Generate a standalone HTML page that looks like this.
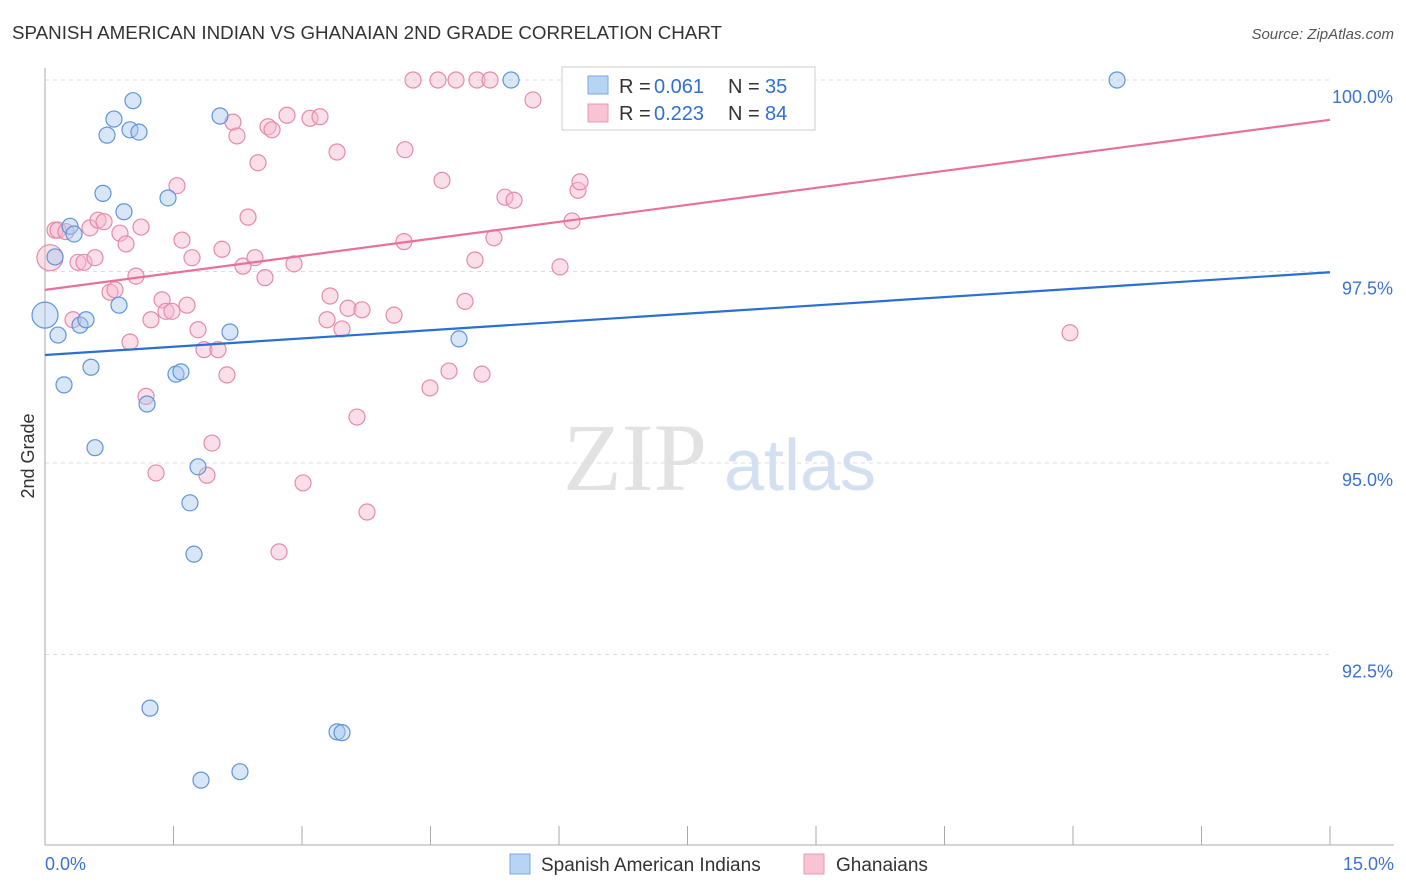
<!DOCTYPE html>
<html><head><meta charset="utf-8"><style>
body{margin:0;background:#fff;font-family:"Liberation Sans",sans-serif;}
svg{display:block}
</style></head><body>
<svg id="chart" width="1406" height="892" xmlns="http://www.w3.org/2000/svg">
<text x="12" y="39" font-size="18" fill="#333" textLength="710" lengthAdjust="spacingAndGlyphs">SPANISH AMERICAN INDIAN VS GHANAIAN 2ND GRADE CORRELATION CHART</text>
<text x="1394" y="39" font-size="15" fill="#555" font-style="italic" text-anchor="end">Source: ZipAtlas.com</text>
<text x="0" y="0" transform="translate(34,456) rotate(-90)" font-size="18" fill="#333" text-anchor="middle">2nd Grade</text>
<g><text x="635" y="490" font-size="96" fill="#e2e2e2" font-family="Liberation Serif,serif" text-anchor="middle">ZIP</text><text x="800" y="490" font-size="72" fill="#d2e0f2" text-anchor="middle">atlas</text></g>
<g id="grid"></g><g id="axes"></g><g id="marks"></g>
<g>
<rect x="562" y="67" width="253" height="63" fill="#fff" stroke="#ccc"/>
<rect x="588" y="76" width="20" height="18" fill="#b8d4f4" stroke="#7aa8e0"/>
<text x="619" y="93" font-size="20" fill="#333">R =</text><text x="654" y="93" font-size="20" fill="#2f6fd6">0.061</text>
<text x="728" y="93" font-size="20" fill="#333">N =</text><text x="765" y="93" font-size="20" fill="#2f6fd6">35</text>
<rect x="588" y="104" width="20" height="18" fill="#f8c4d4" stroke="#e898b4"/>
<text x="619" y="120" font-size="20" fill="#333">R =</text><text x="654" y="120" font-size="20" fill="#2f6fd6">0.223</text>
<text x="728" y="120" font-size="20" fill="#333">N =</text><text x="765" y="120" font-size="20" fill="#2f6fd6">84</text>
</g>
<g>
<rect x="510" y="854" width="20" height="20" fill="#b8d4f4" stroke="#7aa8e0"/>
<text x="541" y="871" font-size="19" fill="#333">Spanish American Indians</text>
<rect x="804" y="854" width="20" height="20" fill="#f8c4d4" stroke="#e898b4"/>
<text x="836" y="871" font-size="19" fill="#333">Ghanaians</text>
</g>
</svg>
<script>
const blueX=[0,.117,.152,.222,.292,.339,.409,.479,.537,.584,.677,.724,.805,.864,.922,.992,1.027,1.097,1.191,1.226,1.436,1.529,1.587,1.692,1.739,1.786,1.821,2.043,2.159,2.276,3.409,3.467,4.833,5.44,12.514];
const blueY=[96.93,97.69,96.67,96.02,98.09,97.99,96.8,96.87,96.25,95.2,98.52,99.28,99.49,97.06,98.28,99.35,99.73,99.32,95.77,91.8,98.46,96.16,96.19,94.48,93.81,94.95,90.86,99.53,96.71,90.97,91.49,91.48,96.62,100,100];
const pinkX=[.058,.117,.152,.245,.327,.385,.455,.525,.584,.619,.689,.759,.817,.875,.946,.992,1.062,1.121,1.179,1.237,1.296,1.366,1.412,1.482,1.541,1.599,1.658,1.716,1.786,1.856,1.949,1.891,2.019,2.066,2.124,2.194,2.241,2.311,2.37,2.451,2.486,2.568,2.603,2.65,2.732,2.825,2.907,3.012,3.093,3.21,3.292,3.327,3.409,3.467,3.537,3.642,3.7,3.759,4.074,4.191,4.202,4.296,4.494,4.587,4.634,4.716,4.798,4.903,5.019,5.043,5.101,5.195,5.241,5.37,5.475,5.696,6.012,6.152,6.222,6.245,6.945,11.965];
const pinkY=[97.68,98.04,98.04,98.02,96.87,97.62,97.62,98.07,97.68,98.17,98.15,97.23,97.26,98,97.86,96.58,97.44,98.08,95.87,96.87,94.87,97.13,96.98,96.98,98.62,97.91,97.06,97.68,96.74,96.48,95.26,94.84,96.48,97.79,96.15,99.45,99.27,97.57,98.21,97.68,98.92,97.42,99.39,99.35,93.84,99.54,97.6,94.74,99.5,99.52,96.87,97.18,99.06,96.75,97.02,95.6,97,94.36,96.93,97.89,99.09,100,95.98,100,98.69,96.2,100,97.11,97.65,100,96.16,100,97.94,98.47,98.43,99.74,97.56,98.16,98.56,98.67,100,96.7];
const blueTrend=[96.41,97.49];
const pinkTrend=[97.26,99.48];
const yTicks=[100,97.5,95,92.5];
const yTickLabels=["100.0%","97.5%","95.0%","92.5%"];
const xTicks=[0,1.5,3,4.5,6,7.5,9,10.5,12,13.5,15];
const NS="http://www.w3.org/2000/svg";
const X=v=>45+v/15*1285;
const Y=v=>80+(100-v)*76.6;
function mk(t,a,p){const e=document.createElementNS(NS,t);for(const k in a)e.setAttribute(k,a[k]);p.appendChild(e);return e;}
const grid=document.getElementById('grid'),axes=document.getElementById('axes'),marks=document.getElementById('marks');
yTicks.forEach((v,i)=>{
 const l=mk('line',{x1:45,x2:1330,y1:Y(v),y2:Y(v),stroke:'#ddd','stroke-dasharray':'4,4'},grid);
 
 
 const t=mk('text',{x:1393,y:Y(v)+23,'font-size':18,fill:'#3b73d0','text-anchor':'end'},axes);
 t.textContent=yTickLabels[i];
 
 
});
const ax=mk('line',{x1:45,x2:1394,y1:845,y2:845,stroke:'#aaa'},axes);


const ay=mk('line',{x1:45,x2:45,y1:68,y2:845,stroke:'#aaa'},axes);


xTicks.forEach(v=>{const t=mk('line',{x1:X(v),x2:X(v),y1:826,y2:845,stroke:'#aaa'},axes);
 
 });
const xl=mk('text',{x:45,y:870,'font-size':18,fill:'#3b73d0'},axes);xl.textContent='0.0%';


const xr=mk('text',{x:1394,y:870,'font-size':18,fill:'#3b73d0','text-anchor':'end'},axes);xr.textContent='15.0%';


function pts(xs,ys,fill,stroke,name){xs.forEach((x,i)=>{
 const r=(x<0.1)?13:8;
 const c=mk('circle',{cx:X(x),cy:Y(ys[i]),r:r,fill:fill,'fill-opacity':0.45,stroke:stroke,'stroke-width':1.2},marks);
 
 });}
pts(pinkX,pinkY,'#f6b8cc','#e68aaa','ghanaian-point');
pts(blueX,blueY,'#a8c8f0','#5f95d8','spanish-american-indian-point');
const bl=mk('line',{x1:X(0),x2:X(15),y1:Y(blueTrend[0]),y2:Y(blueTrend[1]),stroke:'#2a6fd4','stroke-width':2.2},marks);


const pl=mk('line',{x1:X(0),x2:X(15),y1:Y(pinkTrend[0]),y2:Y(pinkTrend[1]),stroke:'#e8709a','stroke-width':2.2},marks);


</script>
</body></html>
